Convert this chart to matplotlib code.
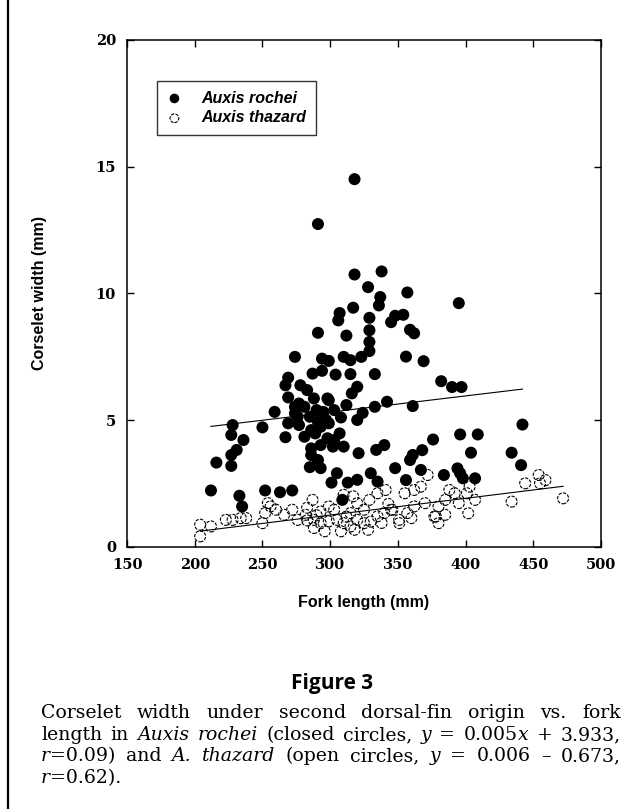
import matplotlib
matplotlib.use('Agg')
import matplotlib.pyplot as plt
from matplotlib.lines import Line2D

# Auxis rochei (closed circles): fork length (mm), corselet width (mm)
rochei_x = [318, 291, 318, 338, 328, 337, 336, 317, 307, 306, 329, 345, 291, 312, 329, 329,
            329, 323, 274, 294, 299, 310, 315, 287, 294, 304, 315, 333, 269, 267, 278, 320,
            316, 283, 269, 277, 288, 298, 342, 333, 312, 259, 274, 281, 285, 295, 303, 324,
            320, 228, 250, 269, 277, 291, 299, 308, 227, 236, 267, 281, 289, 298, 307, 231,
            227, 286, 293, 302, 310, 286, 321, 334, 340, 216, 227, 285, 293, 348, 305, 301,
            313, 320, 330, 335, 212, 252, 263, 272, 233, 235, 309,
            276, 290, 297, 286, 293, 303, 274, 299, 291,
            357, 395, 348, 354, 359, 362, 356, 369, 382, 390, 397, 361, 442, 376, 396, 409,
            368, 361, 359, 404, 434, 367, 394, 441, 384, 396, 407, 356, 398]
rochei_y = [14.51, 12.74, 10.75, 10.87, 10.25, 9.86, 9.53, 9.44, 9.23, 8.94, 9.04, 8.87, 8.45, 8.34, 8.55, 8.09,
            7.73, 7.50, 7.50, 7.43, 7.34, 7.50, 7.37, 6.84, 6.95, 6.80, 6.82, 6.82, 6.68, 6.38, 6.38, 6.32,
            6.06, 6.19, 5.90, 5.66, 5.86, 5.86, 5.73, 5.53, 5.60, 5.33, 5.27, 5.53, 5.14, 5.33, 5.40, 5.29,
            5.01, 4.81, 4.72, 4.88, 4.81, 4.94, 4.88, 5.11, 4.42, 4.22, 4.33, 4.35, 4.48, 4.29, 4.48, 3.83,
            3.63, 3.89, 4.02, 3.96, 3.96, 3.63, 3.70, 3.83, 4.02, 3.33, 3.20, 3.15, 3.11, 3.11, 2.91, 2.54,
            2.54, 2.65, 2.91, 2.58, 2.23, 2.23, 2.16, 2.23, 2.02, 1.60, 1.86,
            5.14, 5.40, 5.01, 4.61, 4.74, 4.22, 5.53, 5.79, 3.43,
            10.04, 9.62, 9.12, 9.16, 8.57, 8.43, 7.51, 7.33, 6.54, 6.31, 6.31, 5.56, 4.83, 4.24, 4.44, 4.44,
            3.82, 3.63, 3.43, 3.72, 3.72, 3.04, 3.10, 3.23, 2.84, 2.91, 2.71, 2.64, 2.71]

# Auxis thazard (open circles)
thazard_x = [204, 204, 212, 223, 228, 234, 238, 250, 252, 256, 260, 254, 266, 272, 276, 282,
             287, 288, 293, 299, 305, 310, 315, 320, 325, 328, 335, 340, 346, 310, 320, 329,
             335, 341, 293, 303, 315, 325, 288, 296, 308, 318, 299,
             283, 290, 312, 330, 338, 343, 283, 317,
             345, 351, 357, 362, 370, 377, 380, 385, 388, 392, 395, 401, 403, 407, 402, 372,
             362, 367, 355, 378, 380, 385, 351, 360, 434, 444, 454, 459, 455, 472]
thazard_y = [0.88, 0.42, 0.81, 1.07, 1.07, 1.14, 1.14, 0.94, 1.34, 1.60, 1.47, 1.73, 1.27, 1.47, 1.07, 1.27,
             1.86, 1.07, 0.94, 1.01, 1.07, 0.94, 0.81, 1.07, 0.94, 0.68, 1.21, 1.34, 1.47, 2.06, 1.73, 1.86,
             2.12, 2.25, 1.40, 1.47, 1.34, 1.47, 0.75, 0.62, 0.62, 0.68, 1.60,
             1.05, 1.25, 1.20, 1.00, 0.95, 1.70, 1.55, 2.00,
             1.47, 1.07, 1.34, 1.60, 1.73, 1.20, 1.60, 1.86, 2.25, 2.12, 1.73, 2.12, 2.38, 1.86, 1.33, 2.84,
             2.25, 2.38, 2.12, 1.20, 0.94, 1.27, 0.94, 1.14, 1.79, 2.51, 2.84, 2.64, 2.51, 1.92]

# regression lines (slope, intercept) as drawn
rochei_fit = (0.0064, 3.40)
thazard_fit = (0.0066, -0.72)

x_ticks = [150, 200, 250, 300, 350, 400, 450, 500]
y_ticks = [0, 5, 10, 15, 20]

caption = [
    "Corselet width under second dorsal-fin origin vs. fork",
    "length in *Auxis* *rochei* (closed circles, *y* = 0.005*x* + 3.933,",
    "*r*=0.09) and *A.* *thazard* (open circles, *y* = 0.006 \u2013 0.673,",
    "*r*=0.62).",
]

W, H = 643, 809
fig = plt.figure(figsize=(W / 100, H / 100), dpi=100)
ax = fig.add_axes([127 / W, 1 - 547 / H, 474 / W, 507 / H])

ax.scatter(rochei_x, rochei_y, s=75, c='black', edgecolors='none', zorder=3, label='Auxis rochei')
ax.scatter(thazard_x, thazard_y, s=62, facecolors='none', edgecolors='black', linewidths=0.8,
           linestyles=(0, (3, 1.2)), zorder=4, label='Auxis thazard')

for xs, ys, (m, b) in [(rochei_x, rochei_y, rochei_fit), (thazard_x, thazard_y, thazard_fit)]:
    x0, x1 = min(xs), max(xs)
    ax.plot([x0, x1], [m * x0 + b, m * x1 + b], color='black', lw=0.8, zorder=5)

ax.set_xlim(150, 500)
ax.set_ylim(0, 20)
ax.set_xticks(x_ticks)
ax.set_yticks(y_ticks)
ax.tick_params(direction='in', top=True, right=True, length=5, width=1, pad=8)
for lab in ax.get_xticklabels() + ax.get_yticklabels():
    lab.set_family('DejaVu Serif')
    lab.set_weight('bold')
    lab.set_fontsize(10.5)
for sp in ax.spines.values():
    sp.set_linewidth(1.1)

leg = ax.legend(loc='upper left', bbox_to_anchor=(0.063, 0.919), scatterpoints=1,
                markerscale=0.8, frameon=True, fancybox=False, edgecolor='black',
                borderpad=0.6, handlelength=1.0, handletextpad=1.2, labelspacing=0.3,
                borderaxespad=0, prop={'family': 'Liberation Sans', 'style': 'italic',
                                       'weight': 'bold', 'size': 11.5})
leg.get_frame().set_linewidth(1.0)

fig.text(364 / W, 1 - 603 / H, 'Fork length (mm)', ha='center', va='center',
         family='Liberation Sans', weight='bold', fontsize=11.5)
fig.text(40 / W, 1 - 293 / H, 'Corselet width (mm)', ha='center', va='center', rotation=90,
         family='Liberation Sans', weight='bold', fontsize=11.5)

fig.text(332 / W, 1 - 684 / H, 'Figure 3', ha='center', va='center',
         family='Open Sans', weight='bold', fontsize=15)

# left rule of the page
fig.add_artist(Line2D([8 / W, 8 / W], [0, 1], transform=fig.transFigure, color='black', lw=1.6))


def split_word(word):
    parts = word.split('*')
    return [(p, i % 2 == 1) for i, p in enumerate(parts) if p]


renderer = fig.canvas.get_renderer()
left, right = 41, 621
baselines = [718, 740, 761, 783]
for i, line in enumerate(caption):
    words = [split_word(w) for w in line.split(' ')]
    placed = []
    for segs in words:
        items = []
        for txt, it in segs:
            t = fig.text(0, 0, txt, family='DejaVu Serif', fontsize=13.6,
                         style='italic' if it else 'normal', ha='left', va='baseline')
            items.append((t, t.get_window_extent(renderer).width))
        placed.append(items)
    widths = [sum(w for _, w in items) for items in placed]
    last = i == len(caption) - 1
    gap = 5.5 if last or len(placed) < 2 else (right - left - sum(widths)) / (len(placed) - 1)
    x = left
    for items, wsum in zip(placed, widths):
        xx = x
        for t, w in items:
            t.set_position((xx / W, 1 - baselines[i] / H))
            xx += w
        x += wsum + gap

fig.savefig('out.png', dpi=100)
